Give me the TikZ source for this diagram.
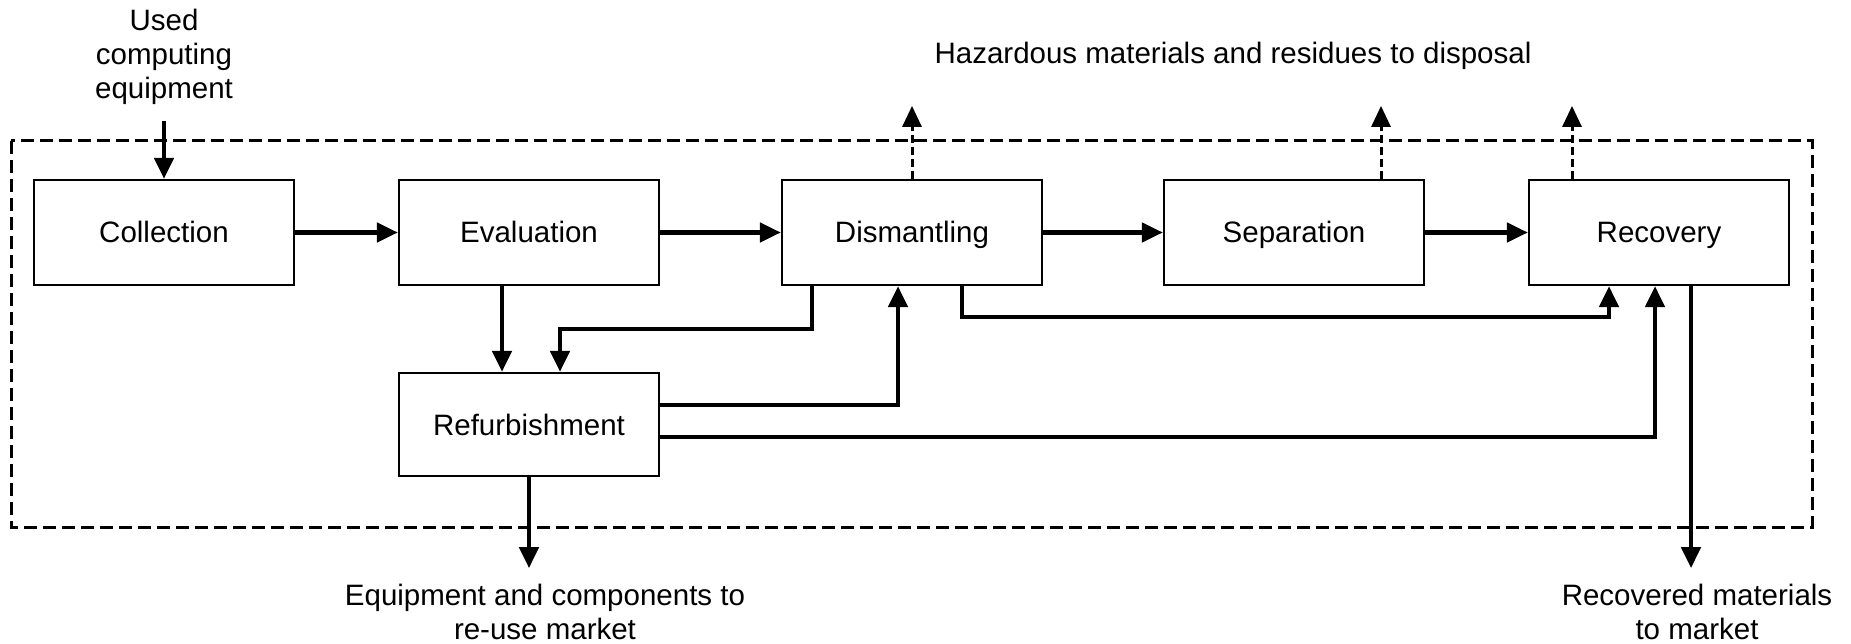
\documentclass[tikz,border=0pt]{standalone}
\usepackage{fontspec}
\setmainfont{Liberation Sans}
\usetikzlibrary{arrows.meta}

\begin{document}
\begin{tikzpicture}[x=1pt,y=-1pt,
  font=\fontsize{29.5}{34}\selectfont,
  box/.style={draw,line width=2.2pt,minimum width=260pt,minimum height=105pt,inner sep=0pt,text height=21pt,text depth=0pt},
  lbl/.style={align=center,inner sep=0pt,outer ysep=16pt},
  arr/.style={line width=4.5pt,-{Triangle[length=21pt,width=19pt]}},
  darr/.style={line width=3pt,dash pattern=on 8pt off 4pt,-{Triangle[length=21pt,width=19pt]}}]
  \useasboundingbox (0,0) rectangle (1851,644);
  \draw[line width=3pt,dash pattern=on 13pt off 6pt] (11,141) rectangle (1812,527);
  \node[box] (coll) at (164,232.5) {Collection};
  \node[box] (eval) at (529,232.5) {Evaluation};
  \node[box] (dis) at (912,232.5) {Dismantling};
  \node[box] (sep) at (1294,232.5) {Separation};
  \node[box] (rec) at (1659,232.5) {Recovery};
  \node[box,minimum height=103pt] (refurb) at (529,424.5) {Refurbishment};
  \node[lbl] (used) at (164,57) {Used\\computing\\equipment};
  \node[lbl] (hazard) at (1233,56) {Hazardous materials and residues to disposal};
  \node[lbl] (reuse) at (545,612) {Equipment and components to\\re-use market};
  \node[lbl] (recmkt) at (1697,612) {Recovered materials\\to market};
  \draw[arr] (used.south) -- (coll.north);
  \draw[arr] (coll) -- (eval);
  \draw[arr] (eval) -- (dis);
  \draw[arr] (dis) -- (sep);
  \draw[arr] (sep) -- (rec);
  \draw[arr] ([xshift=-27pt]eval.south) -- ([xshift=-27pt]refurb.north);
  \draw[arr] ([xshift=-100pt]dis.south) -- ++(0,43) -| ([xshift=31pt]refurb.north);
  \draw[arr] ([yshift=19.5pt]refurb.east) -| ([xshift=-14pt]dis.south);
  \draw[arr] ([xshift=50pt]dis.south) -- ++(0,31) -| ([xshift=-50pt]rec.south);
  \draw[arr] ([yshift=-12.5pt]refurb.east) -| ([xshift=-4pt]rec.south);
  \draw[arr] (refurb.south) -- (refurb.south |- reuse.north);
  \draw[arr] ([xshift=32pt]rec.south) -- ([xshift=32pt]rec.south |- recmkt.north);
  \draw[darr] (dis.north) -- ++(0,-73);
  \draw[darr] ([xshift=87pt]sep.north) -- ++(0,-73);
  \draw[darr] ([xshift=-87pt]rec.north) -- ++(0,-73);
\end{tikzpicture}
\end{document}
